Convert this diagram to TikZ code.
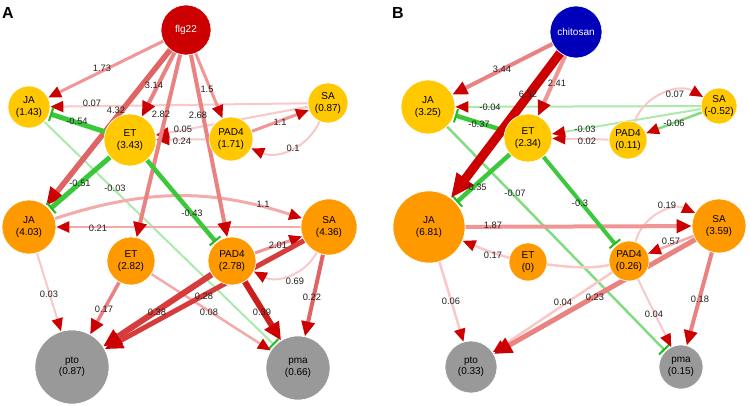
\documentclass[tikz,border=0pt]{standalone}
\usepackage{fontspec}
\setmainfont{Liberation Sans}
\usetikzlibrary{arrows.meta}
\pgfdeclarelayer{back}
\pgfdeclarelayer{bg}
\pgfsetlayers{back,bg,main}
\definecolor{yel}{HTML}{FFC800}
\definecolor{ora}{HTML}{FF9900}
\definecolor{gry}{HTML}{999999}
\definecolor{flg}{HTML}{CC0000}
\definecolor{chi}{HTML}{0000BB}
\definecolor{ar}{HTML}{CC0000}
\definecolor{gb}{HTML}{22BB22}
\definecolor{p1}{HTML}{FAC8C8}
\definecolor{p2}{HTML}{F5AAAA}
\definecolor{p3}{HTML}{F09696}
\definecolor{p4}{HTML}{EB8282}
\definecolor{p5}{HTML}{E16464}
\definecolor{p6}{HTML}{D73C3C}
\definecolor{p7}{HTML}{CD1E1E}
\definecolor{p8}{HTML}{CC0000}
\definecolor{g1}{HTML}{AAEBAA}
\definecolor{g2}{HTML}{82DC82}
\definecolor{g3}{HTML}{3CC83C}
\definecolor{lbc}{HTML}{222222}
\tikzset{
  tipS/.style={-{Triangle[length=13pt,width=11pt,color=ar]}},
  tipM/.style={-{Triangle[length=15pt,width=13pt,color=ar]}},
  tipL/.style={-{Triangle[length=18pt,width=16pt,color=ar]}},
  tipXL/.style={-{Triangle[length=24pt,width=20pt,color=ar]}},
  inh/.style={-{Bar[width=14pt,line width=2pt,color=gb]}, shorten >=1pt},
  lbl/.style={font=\fontsize{9.3}{10}\selectfont, text=lbc, inner sep=0pt},
  nd/.style={circle, draw=white, line width=0.6pt, inner sep=0pt, align=center, font=\fontsize{10}{11.5}\selectfont},
  panel/.style={font=\bfseries\fontsize{16}{16}\selectfont, inner sep=0pt},
}
\begin{document}
\begin{tikzpicture}[x=1pt,y=-1pt]
\useasboundingbox (0,0) rectangle (750,406);
\begin{pgfonlayer}{back}
\fill[white] (0,0) rectangle (750,406);
\end{pgfonlayer}
% panel labels
\node[panel] (pA) at (8,13) {A};
\node[panel] (pB) at (398,13) {B};
% ---------- Panel A nodes
\node[nd, fill=flg, text=white, minimum size=50pt] (aF) at (186,30) {flg22};
\node[nd, fill=yel, minimum size=42pt] (aJA1) at (29,107) {JA\\(1.43)};
\node[nd, fill=yel, minimum size=52pt] (aET1) at (130,140) {ET\\(3.43)};
\node[nd, fill=yel, minimum size=44pt] (aPAD1) at (231,139) {PAD4\\(1.71)};
\node[nd, fill=yel, minimum size=40pt] (aSA1) at (328,103) {SA\\(0.87)};
\node[nd, fill=ora, minimum size=54pt] (aJA2) at (29,227) {JA\\(4.03)};
\node[nd, fill=ora, minimum size=48pt] (aET2) at (131,261) {ET\\(2.82)};
\node[nd, fill=ora, minimum size=48pt] (aPAD2) at (232,261) {PAD4\\(2.78)};
\node[nd, fill=ora, minimum size=56pt] (aSA2) at (329,227) {SA\\(4.36)};
\node[nd, fill=gry, minimum size=74pt] (apto) at (72,367) {pto\\(0.87)};
\node[nd, fill=gry, minimum size=64pt] (apma) at (298,368) {pma\\(0.66)};
% ---------- Panel B nodes
\node[nd, fill=chi, text=white, minimum size=52pt] (bC) at (576,32) {chitosan};
\node[nd, fill=yel, minimum size=54pt] (bJA1) at (428,107) {JA\\(3.25)};
\node[nd, fill=yel, minimum size=48pt] (bET1) at (528,138) {ET\\(2.34)};
\node[nd, fill=yel, minimum size=38pt] (bPAD1) at (628,140) {PAD4\\(0.11)};
\node[nd, fill=yel, minimum size=34pt] (bSA1) at (719,106) {SA\\(-0.52)};
\node[nd, fill=ora, minimum size=72pt] (bJA2) at (429,227) {JA\\(6.81)};
\node[nd, fill=ora, minimum size=38pt] (bET2) at (528,262) {ET\\(0)};
\node[nd, fill=ora, minimum size=40pt] (bPAD2) at (629,261) {PAD4\\(0.26)};
\node[nd, fill=ora, minimum size=54pt] (bSA2) at (719,226) {SA\\(3.59)};
\node[nd, fill=gry, minimum size=52pt] (bpto) at (471,367) {pto\\(0.33)};
\node[nd, fill=gry, minimum size=44pt] (bpma) at (681,367) {pma\\(0.15)};
% ---------- edges
\begin{pgfonlayer}{bg}
% Panel A
\draw[line width=2pt, p1, tipS] (aSA1) -- (aJA1);
\draw[line width=2pt, p1, tipS] (aSA1) -- (aET1);
\draw[line width=2pt, p1, tipS] (aPAD1) -- (aET1);
\draw[line width=3pt, p3, tipS] (aPAD1) -- (aSA1);
\draw[line width=2pt, p1, tipS] (aSA1) to[bend left=45] (aPAD1);
\draw[line width=2pt, g1, inh] (aJA1) -- (apma);
\draw[line width=3pt, p2, tipS] (aJA2) to[bend left=18] (aSA2);
\draw[line width=2.5pt, p2, tipS] (aSA2) -- (aJA2);
\draw[line width=2pt, p1, tipS] (aJA2) -- (apto);
\draw[line width=3.5pt, p4, tipM] (aET2) -- (apto);
\draw[line width=2.5pt, p2, tipS] (aET2) -- (apma);
\draw[line width=3pt, p3, tipS] (aPAD2) -- (aSA2);
\draw[line width=2pt, p1, tipS] (aSA2) to[bend left=45] (aPAD2);
\draw[line width=4pt, p5, tipM] (aSA2) -- (apma);
\draw[line width=3pt, p3, tipS] (aF) -- (aJA1);
\draw[line width=4pt, p4, tipM] (aF) -- (aET1);
\draw[line width=4pt, p4, tipM] (aF) -- (aET2);
\draw[line width=4pt, p4, tipM] (aF) -- (aPAD2);
\draw[line width=3pt, p3, tipS] (aF) -- (aPAD1);
\draw[line width=5.5pt, p5, tipL] (aF) -- (aJA2);
\draw[line width=5pt, g3, inh] (aET1) -- (aJA1);
\draw[line width=5pt, g3, inh] (aET1) -- (aJA2);
\draw[line width=4.5pt, g3, inh] (aET1) -- (aPAD2);
\draw[line width=5pt, p6, tipL] (aSA2) -- (apto);
\draw[line width=6pt, p6, tipL] (aPAD2) -- (apto);
\draw[line width=6pt, p7, tipL] (aPAD2) -- (apma);
% Panel B
\draw[line width=2pt, g1, tipS] (bSA1) -- (bJA1);
\draw[line width=2pt, g1, tipS] (bSA1) -- (bET1);
\draw[line width=2pt, p1, tipS] (bPAD1) -- (bET1);
\draw[line width=2pt, p1, tipS] (bPAD1) to[bend left=50] (bSA1);
\draw[line width=2.5pt, g2, tipS] (bSA1) -- (bPAD1);
\draw[line width=2.5pt, g2, inh] (bJA1) -- (bpma);
\draw[line width=2.5pt, p1, tipS] (bPAD2) .. controls (585,270) and (560,266) .. (bET2.center) .. controls (505,258) and (485,250) .. (bJA2);
\draw[line width=2pt, p1, tipS] (bPAD2) to[bend left=50] (bSA2);
\draw[line width=2.5pt, p2, tipS] (bSA2) -- (bPAD2);
\draw[line width=2.5pt, p1, tipS] (bPAD2) -- (bpto);
\draw[line width=2pt, p1, tipS] (bPAD2) -- (bpma);
\draw[line width=2.5pt, p1, tipS] (bJA2) -- (bpto);
\draw[line width=4pt, p3, tipM] (bJA2) -- (bSA2);
\draw[line width=4pt, p4, tipM] (bSA2) -- (bpma);
\draw[line width=5pt, p4, tipL] (bSA2) -- (bpto);
\draw[line width=4pt, p4, tipM] (bC) -- (bJA1);
\draw[line width=4pt, p3, tipM] (bC) -- (bET1);
\draw[line width=4.5pt, g3, inh] (bET1) -- (bJA1);
\draw[line width=4.5pt, g3, inh] (bET1) -- (bJA2);
\draw[line width=4pt, g3, inh] (bET1) -- (bPAD2);
\draw[line width=9pt, p8, tipXL] (bC) -- (bJA2);
\end{pgfonlayer}
% ---------- labels A
\node[lbl] (la1) at (102,68) {1.73};
\node[lbl] (la2) at (154,85) {3.14};
\node[lbl] (la3) at (116,110) {4.32};
\node[lbl] (la4) at (161,114) {2.82};
\node[lbl] (la5) at (198,115) {2.68};
\node[lbl] (la6) at (207,89) {1.5};
\node[lbl] (la7) at (92,103) {0.07};
\node[lbl] (la8) at (183,129) {0.05};
\node[lbl] (la9) at (182,141) {0.24};
\node[lbl] (la10) at (280,122) {1.1};
\node[lbl] (la11) at (293,148) {0.1};
\node[lbl] (la12) at (77,121) {-0.54};
\node[lbl] (la13) at (80,183) {-0.51};
\node[lbl] (la14) at (115,188) {-0.03};
\node[lbl] (la15) at (192,213) {-0.43};
\node[lbl] (la16) at (263,204) {1.1};
\node[lbl] (la17) at (98,228) {0.21};
\node[lbl] (la18) at (49,294) {0.03};
\node[lbl] (la19) at (104,309) {0.17};
\node[lbl] (la20) at (157,312) {0.38};
\node[lbl] (la21) at (204,296) {0.28};
\node[lbl] (la22) at (209,312) {0.08};
\node[lbl] (la23) at (262,312) {0.39};
\node[lbl] (la24) at (278,245) {2.01};
\node[lbl] (la25) at (295,281) {0.69};
\node[lbl] (la26) at (312,297) {0.22};
% ---------- labels B
\node[lbl] (lb1) at (502,69) {3.44};
\node[lbl] (lb2) at (528,94) {6.32};
\node[lbl] (lb3) at (557,83) {2.41};
\node[lbl] (lb4) at (490,107) {-0.04};
\node[lbl] (lb5) at (479,124) {-0.37};
\node[lbl] (lb6) at (476,187) {-0.35};
\node[lbl] (lb7) at (515,193) {-0.07};
\node[lbl] (lb8) at (580,203) {-0.3};
\node[lbl] (lb9) at (585,129) {-0.03};
\node[lbl] (lb10) at (587,141) {0.02};
\node[lbl] (lb11) at (675,94) {0.07};
\node[lbl] (lb12) at (674,123) {-0.06};
\node[lbl] (lb13) at (493,225) {1.87};
\node[lbl] (lb14) at (493,255) {0.17};
\node[lbl] (lb15) at (667,205) {0.19};
\node[lbl] (lb16) at (671,241) {0.57};
\node[lbl] (lb17) at (595,297) {0.23};
\node[lbl] (lb18) at (563,302) {0.04};
\node[lbl] (lb19) at (654,314) {0.04};
\node[lbl] (lb20) at (700,299) {0.18};
\node[lbl] (lb21) at (451,301) {0.06};
\end{tikzpicture}
\end{document}
